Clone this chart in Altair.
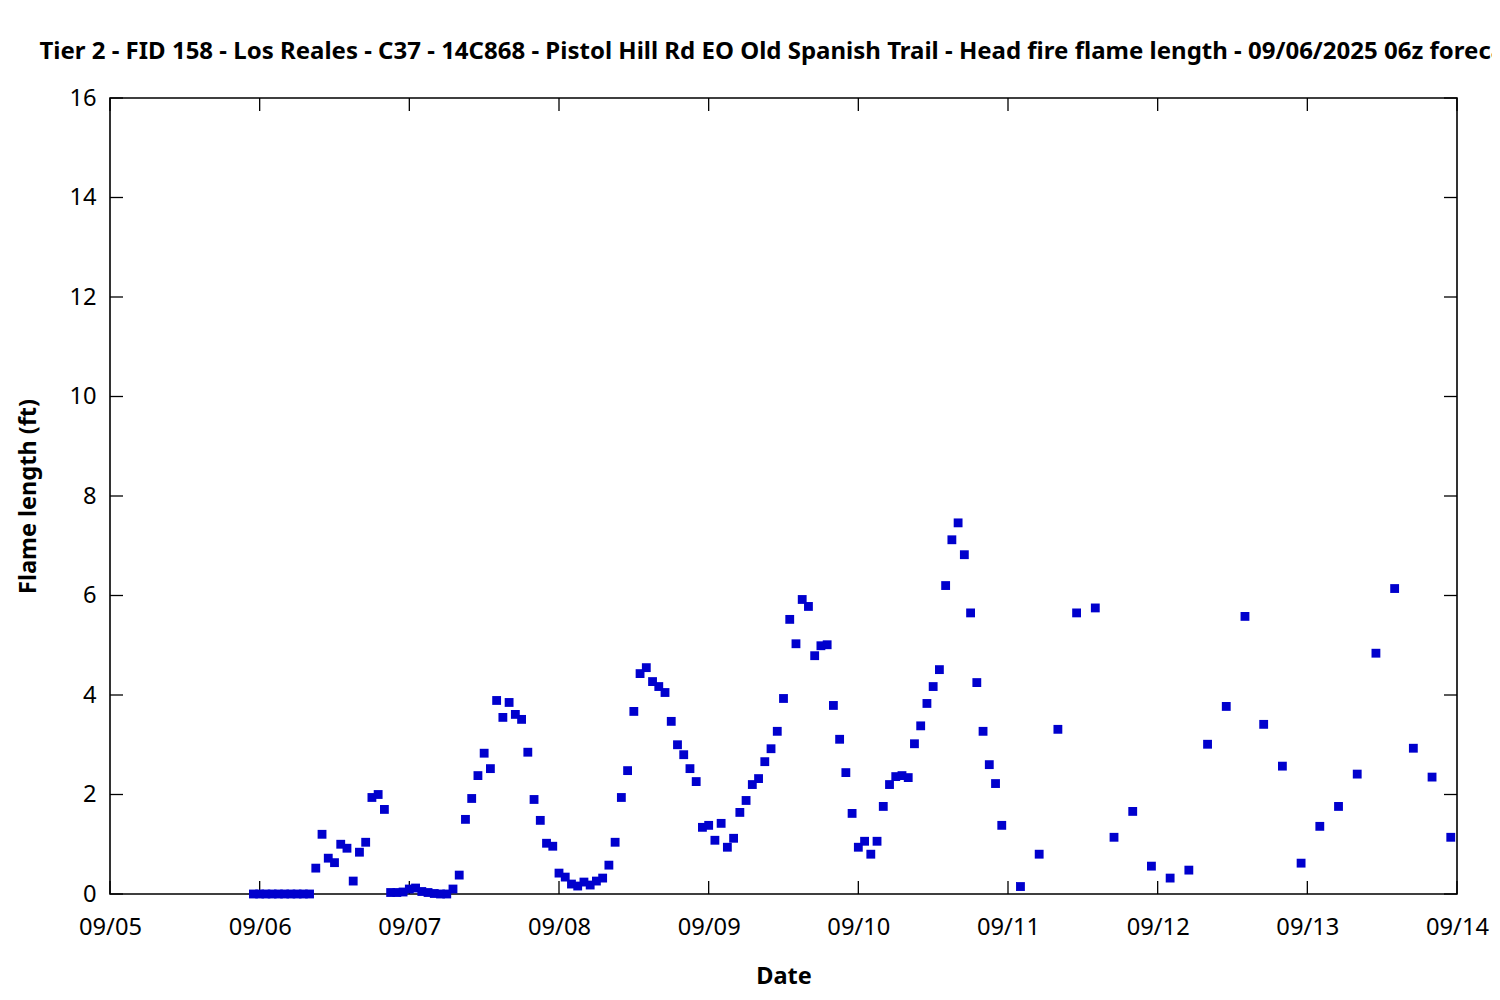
import altair as alt
import pandas as pd

# ---- data ----
hourly_start = "2025-09-05T23:00:00Z"
hourly_values = [
    0, 0, 0, 0, 0, 0, 0, 0, 0, 0,
    0.52, 1.20, 0.72, 0.63, 1.00, 0.92, 0.26, 0.84, 1.04, 1.94,
    2.00, 1.70, 0.03, 0.03, 0.04, 0.10, 0.12, 0.05, 0.03, 0.01,
    0.0, 0.0, 0.10, 0.38, 1.50, 1.92, 2.38, 2.83, 2.52, 3.89,
    3.55, 3.85, 3.61, 3.51, 2.85, 1.90, 1.48, 1.02, 0.96, 0.42,
    0.34, 0.20, 0.16, 0.24, 0.18, 0.26, 0.32, 0.58, 1.04, 1.94,
    2.48, 3.67, 4.43, 4.55, 4.27, 4.17, 4.05, 3.47, 3.00, 2.80,
    2.52, 2.26, 1.34, 1.38, 1.08, 1.42, 0.94, 1.12, 1.64, 1.88,
    2.20, 2.32, 2.66, 2.92, 3.27, 3.93, 5.52, 5.03, 5.92, 5.78,
    4.79, 4.99, 5.01, 3.79, 3.11, 2.44, 1.62, 0.94, 1.06, 0.80,
    1.06, 1.76, 2.20, 2.36, 2.38, 2.34, 3.02, 3.38, 3.83, 4.17,
    4.51, 6.20, 7.12, 7.46, 6.82, 5.65, 4.25, 3.27, 2.60, 2.22,
    1.38,
]
threehourly_start = "2025-09-11T02:00:00Z"
threehourly_values = [
    0.15, 0.80, 3.31, 5.65, 5.75, 1.14, 1.66, 0.56, 0.32, 0.48,
    3.01, 3.77, 5.58, 3.41, 2.57, 0.62, 1.36, 1.76, 2.41, 4.84,
    6.14, 2.93, 2.35, 1.14,
]
x_ticks = ["2025-09-%02dT00:00:00Z" % d for d in range(5, 15)]
y_ticks = [0, 2, 4, 6, 8, 10, 12, 14, 16]

title_text = ("Tier 2 - FID 158 - Los Reales - C37 - 14C868 - Pistol Hill Rd EO Old "
              "Spanish Trail - Head fire flame length - 09/06/2025 06z forecast")

# ---- tables ----
t1 = pd.date_range(hourly_start, periods=len(hourly_values), freq="1h")
t2 = pd.date_range(threehourly_start, periods=len(threehourly_values), freq="3h")
pts = pd.DataFrame({
    "t": [t.strftime("%Y-%m-%dT%H:%M:%SZ") for t in list(t1) + list(t2)],
    "v": hourly_values + threehourly_values,
})
xt = pd.DataFrame({"t": x_ticks})
yt = pd.DataFrame({"v": y_ticks})

W, H = 1347, 796
TICK = 13
FONT = "Noto Sans"
LBL = 23.7
TTL = 23.5

xscale = alt.Scale(type="utc", domain=[x_ticks[0], x_ticks[-1]], nice=False)
yscale = alt.Scale(domain=[0, 16], nice=False, zero=False)

points = alt.Chart(pts).mark_square(size=78, color="#0000cd", opacity=1).encode(
    x=alt.X("t:T", scale=xscale,
            axis=alt.Axis(values=x_ticks, format="%m/%d", ticks=False, tickSize=0,
                          domain=False, grid=False, labelPadding=21,
                          labelFontSize=LBL, labelFont=FONT, labelColor="black",
                          title="Date", titleFontSize=TTL, titleFont=FONT,
                          titleFontWeight="bold", titleColor="black", titlePadding=26,
                          labelFlush=False)),
    y=alt.Y("v:Q", scale=yscale,
            axis=alt.Axis(values=y_ticks, ticks=False, tickSize=0, domain=False,
                          grid=False, labelPadding=14, labelFontSize=LBL,
                          labelFont=FONT, labelColor="black",
                          title="Flame length (ft)", titleFontSize=TTL, titleFont=FONT,
                          titleFontWeight="bold", titleColor="black", titlePadding=28)),
)

xb = alt.Chart(xt).mark_rule(color="black", strokeWidth=1.3).encode(
    x=alt.X("t:T", scale=xscale), y=alt.value(H), y2=alt.value(H - TICK))
xtop = alt.Chart(xt).mark_rule(color="black", strokeWidth=1.3).encode(
    x=alt.X("t:T", scale=xscale), y=alt.value(0), y2=alt.value(TICK))
yl = alt.Chart(yt).mark_rule(color="black", strokeWidth=1.3).encode(
    y=alt.Y("v:Q", scale=yscale), x=alt.value(0), x2=alt.value(TICK))
yr = alt.Chart(yt).mark_rule(color="black", strokeWidth=1.3).encode(
    y=alt.Y("v:Q", scale=yscale), x=alt.value(W - TICK), x2=alt.value(W))

chart = alt.layer(xb, xtop, yl, yr, points).properties(
    width=W, height=H,
    background="white",
    title=alt.TitleParams(title_text, fontSize=24, font=FONT, fontWeight="bold",
                          color="black", anchor="middle", frame="group", offset=22),
    autosize=alt.AutoSizeParams(type="none"),
    padding={"left": 102, "top": 90, "right": 35, "bottom": 98},
).configure_view(stroke="black", strokeWidth=1.6)

chart.save("out.html", embed_options={"renderer": "svg", "actions": False})
